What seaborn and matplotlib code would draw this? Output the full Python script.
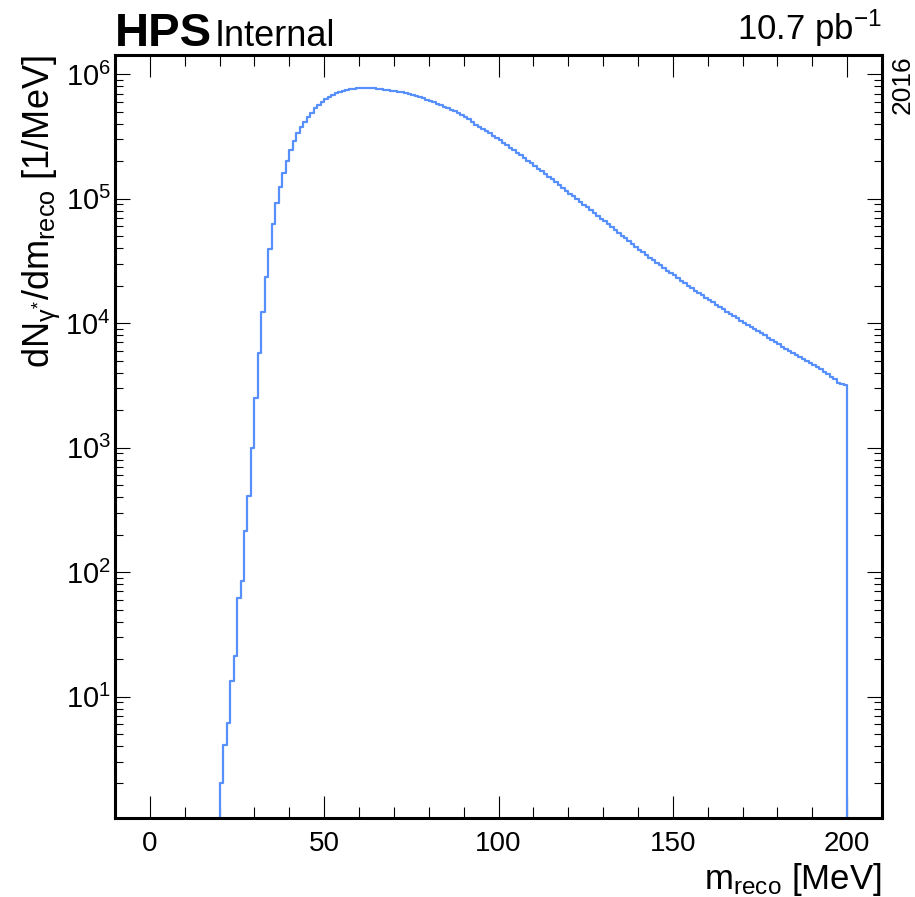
import numpy as np
import pandas as pd
import matplotlib
matplotlib.use("Agg")
import matplotlib.pyplot as plt
import seaborn as sns
from matplotlib.ticker import MultipleLocator, FixedLocator, LogLocator, NullFormatter

# ---------------- data ----------------
mass_lo = 20      # low edge of first filled bin [MeV]
mass_hi = 200     # high edge of last filled bin [MeV]
bin_width = 1     # [MeV]

counts_rise = [2.0, 4.1, 6.1, 13.2, 21.3, 61.8, 85, 212, 405, 990,
               2520, 5800, 12400, 23700, 39500, 62800, 92000, 125000, 162000, 202000,
               246000, 292000, 336000, 379000, 416000, 456000, 492000, 535000, 570000, 603000,
               634000, 661000, 686000, 707000, 725000, 738000, 748000, 758000, 766000, 770000,
               773000, 775000, 776000, 776000]                      # bins 20-63
counts_peak = [773000, 768000, 758000, 750000, 744000, 738000, 731000, 725000, 715000, 704000,
               693000, 682000, 671000, 661000, 645000, 625000, 608000, 595000, 580000, 562000,
               549000, 533000, 517000, 505000, 492000, 474000, 456000, 434000]  # bins 64-91
counts_fall = [412000, 395000, 379000, 364000, 349000, 335000, 321000, 308000, 295000, 282000,
               270000, 258000, 246000, 234000, 223000, 213000, 203000, 193000, 184000, 175000,
               167000, 158000, 150000, 143000, 136000, 129000, 122000, 116000, 110000, 105000,
               99500, 94400, 89700, 85100, 80900, 76700, 72900, 69200, 65800, 62400,
               59300, 56200, 53300, 50600, 48000, 45500, 43200, 40900, 38900]  # bins 92-140
counts_tail = [37100, 35300, 33700, 32100, 30600, 29200, 27900, 26500, 25400, 24200,
               23000, 22000, 20900, 20000, 19100, 18200, 17500, 16700, 16000, 15300,
               14700, 14000, 13400, 12900, 12300, 11900, 11400, 11000, 10500, 10100,
               9750, 9380, 9020, 8670, 8320, 7980, 7660, 7350, 7050, 6760,
               6490, 6220, 5970, 5740, 5530, 5330, 5140, 4950, 4780, 4600,
               4440, 4280, 4080, 3890, 3720, 3550, 3330, 3270, 3190]          # bins 141-199

x_ticks = [0, 50, 100, 150, 200]
y_ticks = [1e1, 1e2, 1e3, 1e4, 1e5, 1e6]
x_limits = (-10, 210)
y_limits = (1.05, 1.43e6)

# ---------------- build table ----------------
counts = counts_rise + counts_peak + counts_fall + counts_tail
edges = [float(e) for e in range(mass_lo - bin_width, mass_hi + 2 * bin_width, bin_width)]
centers = [e + bin_width / 2 for e in edges[:-1]]
weights = [0.0] + counts + [0.0]
df = pd.DataFrame({"m": centers, "w": weights})

# ---------------- style ----------------
sns.set_theme(style="ticks")
plt.rcParams["font.family"] = ["Liberation Sans", "DejaVu Sans"]
plt.rcParams["mathtext.fontset"] = "custom"
plt.rcParams["mathtext.rm"] = "Liberation Sans"
plt.rcParams["mathtext.it"] = "Liberation Sans:italic"
plt.rcParams["mathtext.bf"] = "Liberation Sans:bold"
plt.rcParams["mathtext.default"] = "regular"
plt.rcParams["axes.unicode_minus"] = True
for key in ["text.color", "axes.labelcolor", "xtick.color", "ytick.color",
            "xtick.labelcolor", "ytick.labelcolor", "axes.edgecolor"]:
    plt.rcParams[key] = "black"

W, H = 915, 897
fig = plt.figure(figsize=(W / 100, H / 100), dpi=100)
fig.patch.set_facecolor("white")
ax_l, ax_r, ax_t, ax_b = 115, 882, 55, 818.3
ax = fig.add_axes([ax_l / W, 1 - ax_b / H, (ax_r - ax_l) / W, (ax_b - ax_t) / H])
ax.set_facecolor("white")

sns.histplot(data=df, x="m", weights="w", bins=edges, element="step", fill=False,
             color="#5790fc", linewidth=1.6, ax=ax)

ax.set_yscale("log")
ax.set_xlim(*x_limits)
ax.set_ylim(*y_limits)

ax.set_xticks(x_ticks)
ax.xaxis.set_minor_locator(MultipleLocator(10))
ax.yaxis.set_major_locator(FixedLocator(y_ticks))
ax.yaxis.set_minor_locator(LogLocator(base=10, subs=np.arange(2, 10), numticks=20))
ax.yaxis.set_minor_formatter(NullFormatter())

ax.tick_params(which="both", direction="in", top=True, right=True, color="black", width=0.8)
ax.tick_params(axis="x", which="major", length=16, labelsize=20, pad=9)
ax.tick_params(axis="x", which="minor", length=8)
ax.tick_params(axis="y", which="major", length=11, labelsize=21, pad=3)
ax.tick_params(axis="y", which="minor", length=5.5)

for s in ax.spines.values():
    s.set_linewidth(2.2)
    s.set_color("black")

ax.set_xlabel(r"m$_{\mathrm{reco}}$ [MeV]", fontsize=25, loc="right")
ax.xaxis.set_label_coords(1.0, -0.056)
ax.set_ylabel(r"dN$_{\gamma^{*}}$/dm$_{\mathrm{reco}}$ [1/MeV]", fontsize=26, loc="top")
ax.yaxis.set_label_coords(-0.069, 1.0)

fig.text(ax_l / W, 1 - 46 / H, "HPS", fontsize=34, fontweight="bold", ha="left", va="baseline")
fig.text(215 / W, 1 - 46 / H, "Internal", fontsize=26, ha="left", va="baseline")
fig.text(ax_r / W, 1 - 40 / H, r"10.7 pb$^{-1}$", fontsize=25, ha="right", va="baseline")
fig.text(903 / W, 1 - ax_t / H, "2016", fontsize=19, rotation=90, ha="center", va="top")

fig.savefig("out.png", dpi=100, facecolor="white")
